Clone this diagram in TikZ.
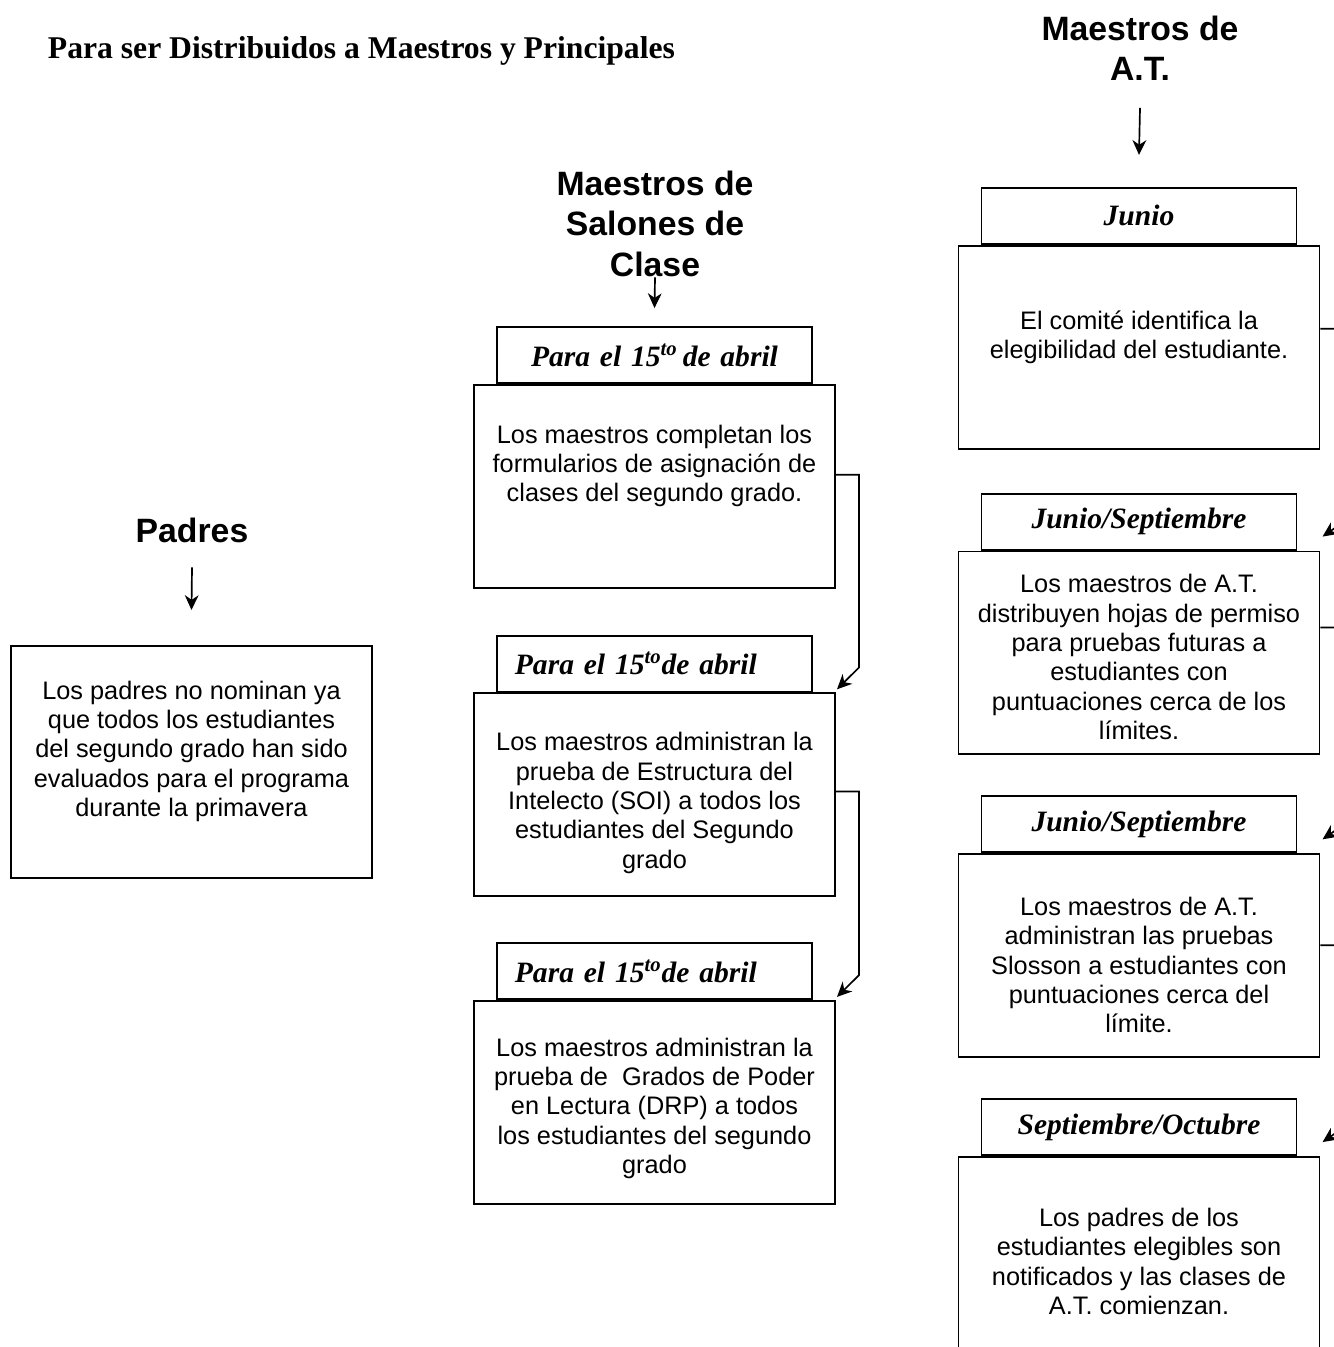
\documentclass[tikz,border=0pt]{standalone}
\usepackage{fontspec}
\setmainfont{Liberation Serif}
\setsansfont{Liberation Sans}
\usetikzlibrary{positioning,arrows.meta}

\begin{document}
\begin{tikzpicture}[x=0.474pt, y=-0.474pt, line width=0.9pt,
    every node/.style={inner sep=0pt},
    conn/.style={-{Stealth[length=7pt,width=6.5pt,inset=2.2pt]}, line width=0.8pt},
    title/.style={font=\bfseries\fontsize{15}{17}\selectfont},
    group/.style={font=\sffamily\bfseries\fontsize{16}{19}\selectfont, align=center},
    headbox/.style={draw, minimum height=26.5pt, inner xsep=8.5pt, text width=132.3pt,
      align=center, font=\bfseries\itshape\fontsize{14}{16}\selectfont},
    mainbox/.style={draw, minimum width=171.1pt, minimum height=96.2pt},
    body/.style={font=\sffamily\fontsize{12}{13.9}\selectfont, align=center}]
  \useasboundingbox (0,0) rectangle (1333,1347);

  \node[title, anchor=base west] (ttl) at (47,59) {Para ser Distribuidos a Maestros y Principales};

  % group headings
  \node[group, anchor=north] (gAT) at (1140,15.5) {Maestros de\\A.T.};
  \node[group, anchor=north] (gSal) at (655,170.5) {Maestros de\\Salones de\\Clase};
  \node[group] (gPad) at (192,530) {Padres};

  % classroom teachers
  \node[headbox, anchor=north] (h1) at (654.5,326) {Para el 15\textsuperscript{to}\,de abril};
  \node[mainbox, below=0pt of h1] (m1) {};
  \node[headbox, align=left, below=21.8pt of m1] (h2) {Para el 15\textsuperscript{to}de abril};
  \node[mainbox, below=0pt of h2] (m2) {};
  \node[headbox, align=left, below=21.3pt of m2] (h3) {Para el 15\textsuperscript{to}de abril};
  \node[mainbox, below=0pt of h3] (m3) {};

  \node[body, below=19pt of m1.north] (t1) {Los maestros completan los\\formularios de asignación de\\clases del segundo grado.};
  \node[body, below=18.5pt of m2.north] (t2) {Los maestros administran la\\prueba de Estructura del\\Intelecto (SOI) a todos los\\estudiantes del Segundo\\grado};
  \node[body, below=17.5pt of m3.north] (t3) {Los maestros administran la\\prueba de~ Grados de Poder\\en Lectura (DRP) a todos\\los estudiantes del segundo\\grado};

  % A.T. teachers
  \node[headbox, anchor=north] (ah1) at (1139,187) {Junio};
  \node[mainbox, below=0pt of ah1] (am1) {};
  \node[headbox, below=20.4pt of am1] (ah2) {Junio/Septiembre};
  \node[mainbox, below=0pt of ah2] (am2) {};
  \node[headbox, below=19pt of am2] (ah3) {Junio/Septiembre};
  \node[mainbox, below=0pt of ah3] (am3) {};
  \node[headbox, below=19pt of am3] (ah4) {Septiembre/Octubre};
  \node[mainbox, minimum height=110pt, below=0pt of ah4] (am4) {};

  \node[body, below=30.8pt of am1.north] (at1) {El comité identifica la\\elegibilidad del estudiante.};
  \node[body, below=10.9pt of am2.north] (at2) {Los maestros de A.T.\\distribuyen hojas de permiso\\para pruebas futuras a\\estudiantes con\\puntuaciones cerca de los\\límites.};
  \node[body, below=20.4pt of am3.north] (at3) {Los maestros de A.T.\\administran las pruebas\\Slosson a estudiantes con\\puntuaciones cerca del\\límite.};
  \node[body, below=24.2pt of am4.north] (at4) {Los padres de los\\estudiantes elegibles son\\notificados y las clases de\\A.T. comienzan.};

  % parents
  \node[mainbox, minimum height=110pt, anchor=north] (p) at (191.5,645) {};
  \node[body, below=16.6pt of p.north] (tp) {Los padres no nominan ya\\que todos los estudiantes\\del segundo grado han sido\\evaluados para el programa\\durante la primavera};

  % arrows
  \draw[conn] ([yshift=-12.3pt]gAT.south) -- ([yshift=15.2pt]ah1.north);
  \draw[conn] (gSal.south) -- ([yshift=8.5pt]h1.north);
  \draw[conn] ([yshift=-11.4pt]gPad.south) -- ([yshift=16.6pt]p.north);

  \draw[conn] ([yshift=-43.1pt]m1.north east) -| ([xshift=10.9pt,yshift=11.8pt]m2.north east) -- ([xshift=0.5pt,yshift=1.5pt]m2.north east);
  \draw[conn] ([yshift=-46.9pt]m2.north east) -| ([xshift=10.9pt,yshift=11.8pt]m3.north east) -- ([xshift=0.5pt,yshift=1.5pt]m3.north east);

  \draw[conn] ([yshift=-39.8pt]am1.north east) -| ([xshift=14.7pt,yshift=16.1pt]am2.north east) -- ([xshift=1pt,yshift=6.6pt]am2.north east);
  \draw[conn] ([yshift=-36.5pt]am2.north east) -| ([xshift=14.7pt,yshift=16.1pt]am3.north east) -- ([xshift=1pt,yshift=6.6pt]am3.north east);
  \draw[conn] ([yshift=-43.6pt]am3.north east) -| ([xshift=14.7pt,yshift=16.1pt]am4.north east) -- ([xshift=1pt,yshift=6.6pt]am4.north east);
\end{tikzpicture}
\end{document}
